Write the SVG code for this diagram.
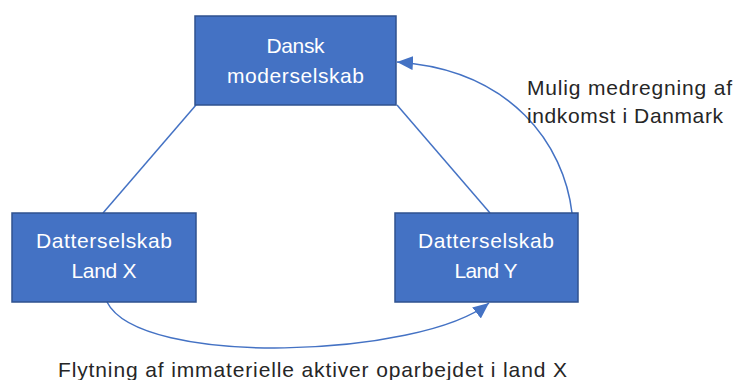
<svg xmlns="http://www.w3.org/2000/svg" width="737" height="380" viewBox="0 0 737 380">
  <defs>
    <marker id="arrow" markerUnits="userSpaceOnUse" markerWidth="18" markerHeight="14" refX="16" refY="7" orient="auto">
      <path d="M0,0 L16,7 L0,14 Z" fill="#4472C4"/>
    </marker>
    <style>
      .box { fill: #4472C4; stroke: #2F528F; stroke-width: 1.5; }
      .boxtext { fill: #FFFFFF; font-family: "Liberation Sans", Arial, sans-serif; font-size: 21px; text-anchor: middle; }
      .label { fill: #262626; font-family: "Liberation Sans", Arial, sans-serif; font-size: 21px; }
      .conn { fill: none; stroke: #4472C4; stroke-width: 1.5; }
    </style>
  </defs>
  <rect width="737" height="380" fill="#FFFFFF"/>

  <g id="connectors">
    <line class="conn" x1="196" y1="105" x2="103" y2="213"/>
    <line class="conn" x1="397" y1="105" x2="490" y2="213"/>
    <path class="conn" d="M572,213 C564,145 512,70 397,62" marker-end="url(#arrow)"/>
    <path class="conn" d="M107,302 C140,368 420,358 489,303" marker-end="url(#arrow)"/>
  </g>

  <g id="node-parent">
    <rect class="box" x="195" y="16" width="201" height="89"/>
    <text class="boxtext" x="295.5" y="53" textLength="58" lengthAdjust="spacing">Dansk</text>
    <text class="boxtext" x="295.5" y="83" textLength="137" lengthAdjust="spacing">moderselskab</text>
  </g>

  <g id="node-land-x">
    <rect class="box" x="12" y="213" width="184" height="89"/>
    <text class="boxtext" x="104" y="248" textLength="136" lengthAdjust="spacing">Datterselskab</text>
    <text class="boxtext" x="104" y="278" textLength="65" lengthAdjust="spacing">Land X</text>
  </g>

  <g id="node-land-y">
    <rect class="box" x="395" y="213" width="183" height="89"/>
    <text class="boxtext" x="486" y="248" textLength="136" lengthAdjust="spacing">Datterselskab</text>
    <text class="boxtext" x="486" y="278" textLength="63" lengthAdjust="spacing">Land Y</text>
  </g>

  <g id="label-income">
    <text class="label" x="527" y="95" textLength="205" lengthAdjust="spacing">Mulig medregning af</text>
    <text class="label" x="527" y="123" textLength="196" lengthAdjust="spacing">indkomst i Danmark</text>
  </g>

  <g id="label-transfer">
    <text class="label" x="58" y="377" textLength="509" lengthAdjust="spacing">Flytning af immaterielle aktiver oparbejdet i land X</text>
  </g>
</svg>
